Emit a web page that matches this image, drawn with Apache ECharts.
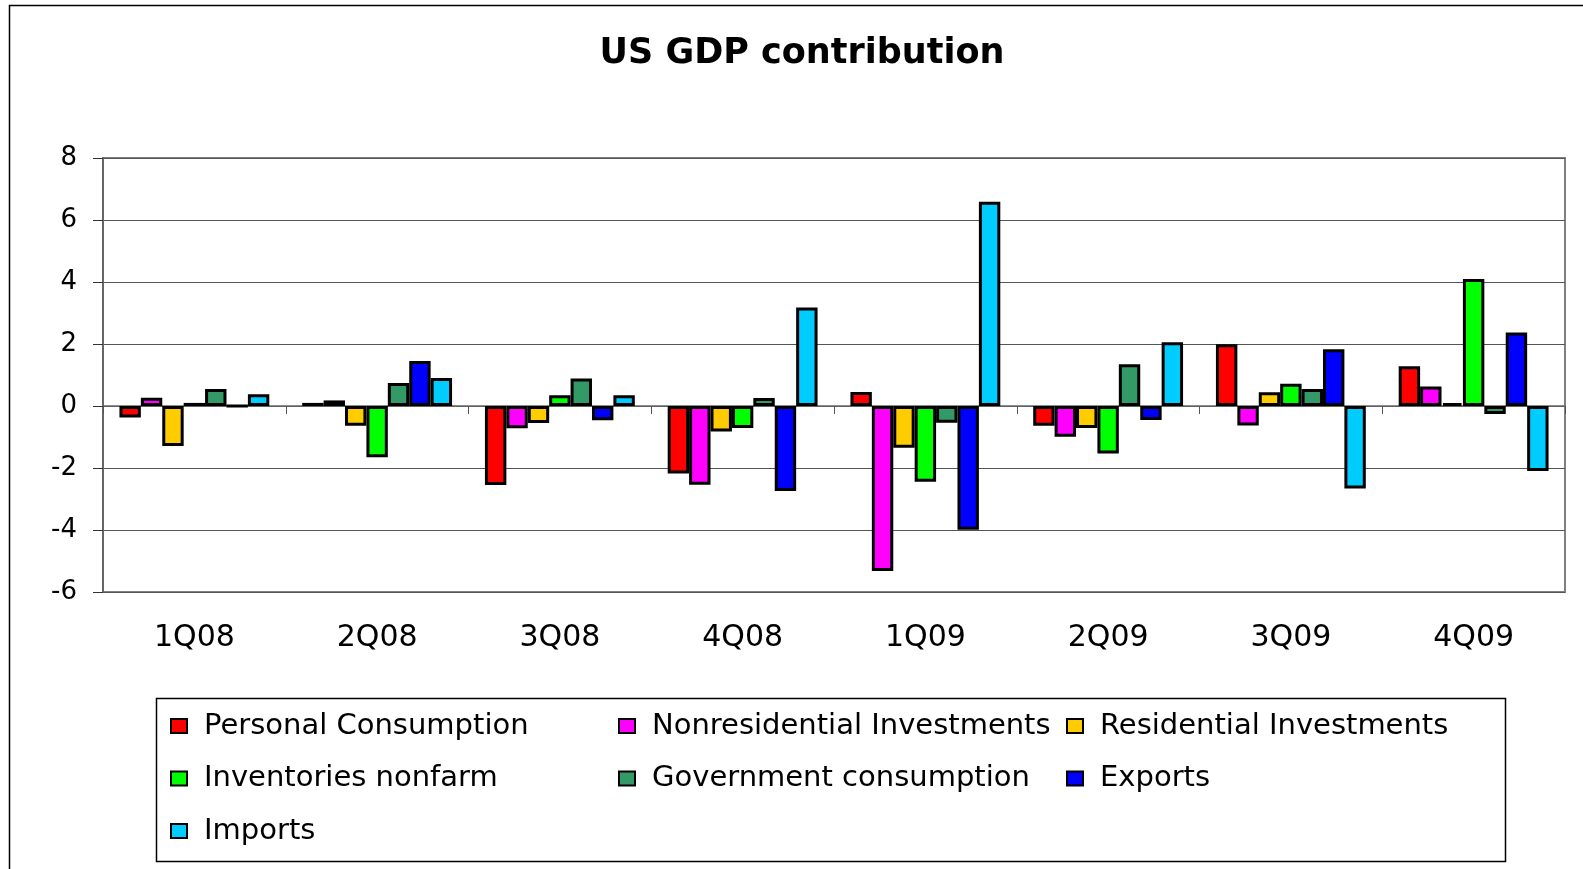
<!DOCTYPE html>
<html><head><meta charset="utf-8">
<script src="https://cdn.jsdelivr.net/npm/echarts@6/dist/echarts.min.js"></script>
<style>html,body{margin:0;padding:0;background:#fff;overflow:hidden;width:1583px;height:869px}#c{width:1583px;height:869px;position:absolute;left:0;top:0}</style>
</head><body><div id="c"></div>
<script>
const categories = ['1Q08','2Q08','3Q08','4Q08','1Q09','2Q09','3Q09','4Q09'];
const seriesNames = ['Personal Consumption','Nonresidential Investments','Residential Investments','Inventories nonfarm','Government consumption','Exports','Imports'];
const personalConsumption = [-0.37, 0.1, -2.55, -2.18, 0.45, -0.64, 1.99, 1.28];
const nonresidentialInv = [0.27, 0.18, -0.72, -2.54, -5.32, -0.99, -0.63, 0.63];
const residentialInv = [-1.29, -0.64, -0.55, -0.82, -1.35, -0.71, 0.44, 0.09];
const inventoriesNonfarm = [0.1, -1.65, 0.35, -0.71, -2.44, -1.53, 0.72, 4.1];
const governmentCons = [0.55, 0.74, 0.89, 0.26, -0.54, 1.35, 0.55, -0.26];
const exportsData = [0, 1.45, -0.46, -2.74, -3.99, -0.45, 1.83, 2.37];
const importsData = [0.38, 0.9, 0.35, 3.18, 6.59, 2.06, -2.66, -2.1];
const colors = ['#ff0000','#ff00ff','#ffcc00','#00ff00','#339966','#0000ff','#00ccff'];
const allData = [personalConsumption, nonresidentialInv, residentialInv, inventoriesNonfarm, governmentCons, exportsData, importsData];

const font = '"DejaVu Sans", Verdana, sans-serif';
const chart = echarts.init(document.getElementById('c'));
const legendBase = {orient:'vertical', padding:0, itemWidth:16, itemHeight:14, itemGap:22.5,
  itemStyle:{borderColor:'#000', borderWidth:2},
  textStyle:{fontFamily:font, fontSize:29, lineHeight:30, color:'#000', padding:[0,0,0,12]}, icon:'rect', top:711};
chart.setOption({
  animation:false,
  title:{text:'US GDP contribution', left:797, textAlign:'center', top:31,
    textStyle:{fontFamily:font, fontSize:35, fontWeight:'bold', color:'#000'}},
  legend:[
    Object.assign({}, legendBase, {left:170, data:[seriesNames[0],seriesNames[3],seriesNames[6]]}),
    Object.assign({}, legendBase, {left:618, data:[seriesNames[1],seriesNames[4]]}),
    Object.assign({}, legendBase, {left:1066, data:[seriesNames[2],seriesNames[5]]})
  ],
  grid:{left:103, right:18, top:158, bottom:277, show:true, borderColor:'#808080', borderWidth:2},
  xAxis:{type:'category', data:categories,
    axisLine:{onZero:true, lineStyle:{color:'#666', width:1.5}},
    axisTick:{show:true, alignWithLabel:false, length:8, lineStyle:{color:'#555'}},
    axisLabel:{show:false}},
  yAxis:{type:'value', min:-6, max:8, interval:2,
    axisLine:{show:true, lineStyle:{color:'#666', width:2}},
    axisTick:{show:true, length:10, lineStyle:{color:'#333'}},
    axisLabel:{fontFamily:font, fontSize:26, color:'#000', margin:26},
    splitLine:{lineStyle:{color:'#555', width:1.2}}},
  series: seriesNames.map((n,i)=>({
    name:n, type:'bar', data:allData[i], barGap:'0%', barCategoryGap:'18%',
    itemStyle:{color:colors[i], borderColor:'#000', borderWidth:3}
  }))
});
const graphics = [
  {type:'rect', shape:{x:9.5,y:5.5,width:1650,height:900}, style:{fill:'none', stroke:'#000', lineWidth:1.5}, silent:true},
  {type:'rect', shape:{x:156.5,y:698.5,width:1349,height:163}, style:{fill:'none', stroke:'#000', lineWidth:1.5}, silent:true}
].concat(categories.map(c=>{
  const p = chart.convertToPixel({xAxisIndex:0}, c);
  return {type:'text', x:p, y:638, style:{text:c, font:'30px '+font, fill:'#000', textAlign:'center', textVerticalAlign:'middle'}, silent:true};
}));
chart.setOption({graphic:graphics});
</script></body></html>
